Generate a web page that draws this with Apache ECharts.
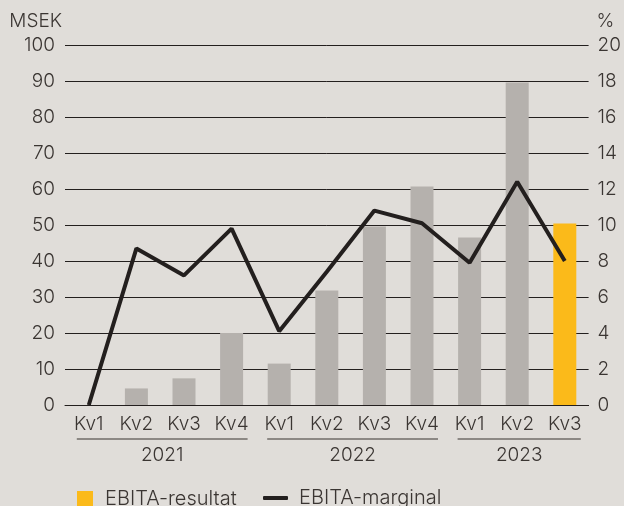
<!DOCTYPE html>
<html>
<head>
<meta charset="utf-8">
<script src="https://cdn.jsdelivr.net/npm/echarts@6/dist/echarts.min.js"></script>
<style>
  html, body { margin: 0; padding: 0; background: #e0ddd9; }
  #chart { width: 624px; height: 506px; }
</style>
</head>
<body>
<div id="chart"></div>
<script>
// quarters along the x axis
var quarters = ['Kv1', 'Kv2', 'Kv3', 'Kv4', 'Kv1', 'Kv2', 'Kv3', 'Kv4', 'Kv1', 'Kv2', 'Kv3'];
// year groups under the quarters (first and last quarter index)
var years = ['2021', '2022', '2023'];
var yearStart = [0, 4, 8];
var yearEnd = [3, 7, 10];
// EBITA-resultat, MSEK
var ebitaResult = [0, 4.6, 7.4, 20, 11.5, 31.8, 49.6, 60.7, 46.5, 89.6, 50.4];
// EBITA-marginal, %
var ebitaMargin = [0, 8.7, 7.2, 9.8, 4.1, 7.4, 10.8, 10.1, 7.9, 12.4, 8.0];
// ticks
var msekTicks = [0, 100, 10];
var pctTicks = [0, 20, 2];

var FONT = 'Inter';
var WEIGHT = 300;
var TEXT = '#3a3532';
var GRAY = '#b5b1ad';
var YELLOW = '#fbba1a';
var DARK = '#231f1e';

var myChart = echarts.init(document.getElementById('chart'));

var barData = ebitaResult.map(function (v, i) {
    // only the latest quarter is highlighted
    return i < ebitaResult.length - 1 ? { value: v, itemStyle: { color: GRAY } } : v;
});

var txt = { color: TEXT, fontSize: 19, fontFamily: FONT, fontWeight: WEIGHT };
var legendTxt = { color: TEXT, fontSize: 20, fontFamily: FONT, fontWeight: WEIGHT };

var option = {
    backgroundColor: '#e0ddd9',
    animation: false,
    textStyle: { fontFamily: FONT },
    grid: { left: 65, right: 34, top: 45, bottom: 101 },
    xAxis: {
        type: 'category',
        data: quarters,
        axisTick: { show: false },
        axisLine: { lineStyle: { color: DARK, width: 1 } },
        axisLabel: Object.assign({ margin: 10 }, txt)
    },
    yAxis: [{
        type: 'value',
        min: msekTicks[0], max: msekTicks[1], interval: msekTicks[2],
        name: 'MSEK',
        nameLocation: 'end',
        nameGap: 14,
        nameTextStyle: Object.assign({ align: 'right', padding: [0, 3, 0, 0] }, txt),
        axisLine: { show: false },
        axisTick: { show: false },
        axisLabel: Object.assign({ margin: 10 }, txt),
        splitLine: { lineStyle: { color: DARK, width: 1 } }
    }, {
        type: 'value',
        min: pctTicks[0], max: pctTicks[1], interval: pctTicks[2],
        name: '%',
        nameLocation: 'end',
        nameGap: 14,
        nameTextStyle: Object.assign({ align: 'left', padding: [0, 0, 0, 8] }, txt),
        axisLine: { show: false },
        axisTick: { show: false },
        axisLabel: Object.assign({ margin: 9 }, txt),
        splitLine: { show: false }
    }],
    legend: [{
        data: [{ name: 'EBITA-resultat', icon: 'rect' }],
        left: 77, top: 489, padding: 0,
        itemWidth: 16, itemHeight: 16,
        textStyle: Object.assign({ padding: [0, 0, 0, 7] }, legendTxt)
    }, {
        data: [{ name: 'EBITA-marginal', icon: 'roundRect' }],
        left: 263, top: 488, padding: 0,
        itemWidth: 25, itemHeight: 4,
        itemStyle: { color: DARK },
        textStyle: Object.assign({ padding: [0, 0, 0, 6] }, legendTxt)
    }],
    series: [{
        name: 'EBITA-resultat',
        type: 'bar',
        barWidth: 23,
        itemStyle: { color: YELLOW },
        data: barData
    }, {
        name: 'EBITA-marginal',
        type: 'line',
        yAxisIndex: 1,
        symbol: 'none',
        lineStyle: { color: DARK, width: 4 },
        itemStyle: { color: DARK },
        data: ebitaMargin
    }, {
        // year group brackets drawn through the category axis
        type: 'custom',
        clip: false,
        silent: true,
        data: years.map(function (y, i) { return [yearStart[i], yearEnd[i]]; }),
        renderItem: function (params, api) {
            var p0 = api.coord([api.value(0), 0]);
            var p1 = api.coord([api.value(1), 0]);
            var x0 = p0[0] - 12, x1 = p1[0] + 16;
            return {
                type: 'group',
                children: [{
                    type: 'line',
                    shape: { x1: x0, y1: p0[1] + 34, x2: x1, y2: p0[1] + 34 },
                    style: { stroke: '#8c8884', lineWidth: 2 }
                }, {
                    type: 'text',
                    style: {
                        text: years[params.dataIndex],
                        x: (x0 + x1) / 2, y: p0[1] + 50,
                        align: 'center', verticalAlign: 'middle',
                        fill: TEXT, fontSize: 19, fontFamily: FONT, fontWeight: WEIGHT
                    }
                }]
            };
        }
    }]
};

myChart.setOption(option);
</script>
</body>
</html>
